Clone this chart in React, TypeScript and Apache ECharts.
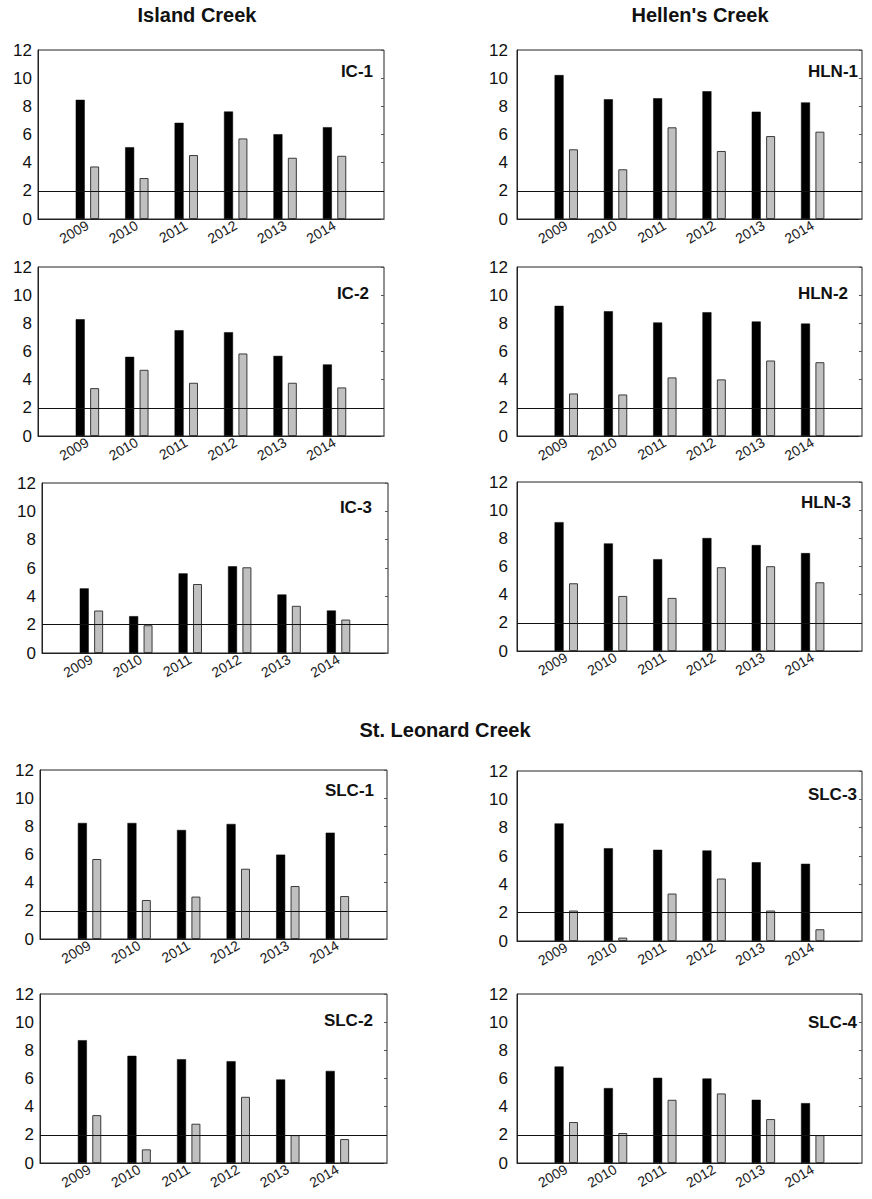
import React, { useEffect, useRef } from "react";
import * as echarts from "echarts";

const years = ["2009", "2010", "2011", "2012", "2013", "2014"];
const yTicks = [0, 2, 4, 6, 8, 10, 12];
const threshold = 2;

const groupTitles = ["Island Creek", "Hellen's Creek", "St. Leonard Creek"];
const panelNames = ["IC-1", "HLN-1", "IC-2", "HLN-2", "IC-3", "HLN-3", "SLC-1", "SLC-3", "SLC-2", "SLC-4"];

const ic1Black = [8.46, 5.1, 6.83, 7.63, 6.02, 6.52];
const ic1Grey = [3.73, 2.91, 4.54, 5.72, 4.35, 4.49];
const hln1Black = [10.22, 8.5, 8.57, 9.07, 7.62, 8.28];
const hln1Grey = [4.95, 3.53, 6.51, 4.83, 5.89, 6.2];
const ic2Black = [8.29, 5.62, 7.51, 7.37, 5.69, 5.08];
const ic2Grey = [3.4, 4.7, 3.78, 5.86, 3.78, 3.45];
const hln2Black = [9.24, 8.86, 8.06, 8.79, 8.13, 7.98];
const hln2Grey = [3.02, 2.95, 4.16, 4.02, 5.36, 5.24];
const ic3Black = [4.56, 2.6, 5.62, 6.12, 4.13, 3.0];
const ic3Grey = [3.0, 1.96, 4.87, 6.05, 3.33, 2.36];
const hln3Black = [9.15, 7.64, 6.52, 8.02, 7.52, 6.95];
const hln3Grey = [4.81, 3.91, 3.77, 5.95, 6.02, 4.88];
const slc1Black = [8.24, 8.24, 7.74, 8.17, 5.99, 7.55];
const slc1Grey = [5.68, 2.77, 3.01, 4.99, 3.76, 3.05];
const slc3Black = [8.3, 6.55, 6.44, 6.39, 5.56, 5.45];
const slc3Grey = [2.15, 0.24, 3.35, 4.41, 2.15, 0.83];
const slc2Black = [8.72, 7.61, 7.37, 7.23, 5.93, 6.54];
const slc2Grey = [3.4, 0.97, 2.79, 4.7, 1.98, 1.7];
const slc4Black = [6.85, 5.32, 6.05, 6.0, 4.49, 4.25];
const slc4Grey = [2.91, 2.13, 4.49, 4.94, 3.12, 1.98];

const blackSeries = [ic1Black, hln1Black, ic2Black, hln2Black, ic3Black, hln3Black, slc1Black, slc3Black, slc2Black, slc4Black];
const greySeries = [ic1Grey, hln1Grey, ic2Grey, hln2Grey, ic3Grey, hln3Grey, slc1Grey, slc3Grey, slc2Grey, slc4Grey];

// layout: [left, top, right, bottom, labelRight, labelY, yLabelMargin]
const layout = [
  [38, 50, 384, 219, 373, 71, 6],
  [517, 50, 862, 219, 858, 71, 9],
  [38, 267, 384, 436, 369, 293, 6],
  [517, 267, 862, 436, 848, 293, 9],
  [42, 483, 388, 653, 372, 507, 6],
  [517, 482, 862, 651, 851, 502, 9],
  [40, 770, 387, 939, 374, 790, 6],
  [517, 771, 862, 941, 857, 794, 9],
  [40, 994, 387, 1163, 373, 1020, 6],
  [517, 994, 862, 1163, 857, 1022, 9],
];
const titlePos = [
  [197, 15],
  [700, 15],
  [445, 730],
];

const FONT = "'Liberation Sans', Arial, sans-serif";

export default function App() {
  const ref = useRef<HTMLDivElement>(null);
  useEffect(() => {
    document.body.style.margin = "0";
    const chart = echarts.init(ref.current!, undefined, { renderer: "svg" });
    const grid: any[] = [];
    const xAxis: any[] = [];
    const yAxis: any[] = [];
    const series: any[] = [];
    const graphic: any[] = [];

    layout.forEach((l, i) => {
      const [L, T, R, B, lr, ly, ym] = l;
      grid.push({
        left: L,
        top: T,
        width: R - L,
        height: B - T,
        show: true,
        borderColor: "#222",
        borderWidth: 1,
        backgroundColor: "#fff",
      });
      xAxis.push({
        type: "value",
        gridIndex: i,
        min: 0,
        max: years.length + 1,
        interval: 1,
        splitLine: { show: false },
        axisTick: { show: false },
        axisLine: { show: true, lineStyle: { color: "#222", width: 1 } },
        axisLabel: {
          rotate: 30,
          fontSize: 14,
          fontFamily: FONT,
          color: "#1a1a1a",
          margin: 5,
          formatter: (v: number) => (v >= 1 && v <= years.length ? years[v - 1] : ""),
        },
      });
      yAxis.push({
        type: "value",
        gridIndex: i,
        min: yTicks[0],
        max: yTicks[yTicks.length - 1],
        interval: 2,
        splitLine: { show: false },
        axisTick: { show: false },
        axisLine: { show: true, lineStyle: { color: "#222", width: 1 } },
        axisLabel: { fontSize: 17, fontFamily: FONT, color: "#111", margin: ym },
      });
      yAxis.push({
        type: "value",
        gridIndex: i,
        position: "right",
        min: yTicks[0],
        max: yTicks[yTicks.length - 1],
        interval: 2,
        splitLine: { show: false },
        axisLine: { show: false },
        axisTick: { show: true, inside: true, length: 3, lineStyle: { color: "#555" } },
        axisLabel: { show: false },
      });
      series.push({
        type: "bar",
        xAxisIndex: i,
        yAxisIndex: i * 2,
        data: blackSeries[i].map((v, k) => [k + 1, v]),
        barWidth: 9,
        barGap: "60%",
        itemStyle: { color: "#000", borderColor: "#000", borderWidth: 0.5 },
        markLine: {
          silent: true,
          symbol: "none",
          label: { show: false },
          lineStyle: { color: "#111", width: 1, type: "solid" },
          data: [{ yAxis: threshold }],
        },
      });
      series.push({
        type: "bar",
        xAxisIndex: i,
        yAxisIndex: i * 2,
        data: greySeries[i].map((v, k) => [k + 1, v]),
        barWidth: 9,
        barGap: "60%",
        itemStyle: { color: "#c0c0c0", borderColor: "#3a3a3a", borderWidth: 1 },
      });
      graphic.push({
        type: "text",
        x: lr,
        y: ly,
        z: 100,
        style: {
          text: panelNames[i],
          fontSize: 17,
          fontWeight: "bold",
          fontFamily: FONT,
          fill: "#111",
          align: "right",
          verticalAlign: "middle",
        },
      });
    });

    groupTitles.forEach((t, i) => {
      graphic.push({
        type: "text",
        x: titlePos[i][0],
        y: titlePos[i][1],
        style: {
          text: t,
          fontSize: 20,
          fontWeight: "bold",
          fontFamily: FONT,
          fill: "#111",
          align: "center",
          verticalAlign: "middle",
        },
      });
    });

    chart.setOption({
      animation: false,
      backgroundColor: "#fff",
      grid,
      xAxis,
      yAxis,
      series,
      graphic,
    });
    return () => chart.dispose();
  }, []);
  return <div ref={ref} style={{ width: 872, height: 1199 }} />;
}
